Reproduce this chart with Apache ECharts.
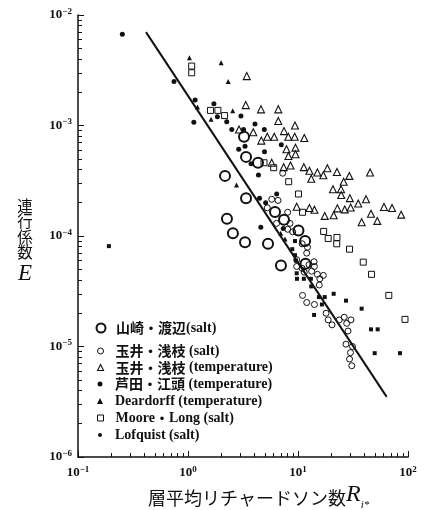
<!DOCTYPE html>
<html>
<head>
<meta charset="utf-8">
<script src="https://cdn.jsdelivr.net/npm/echarts@6/dist/echarts.min.js"></script>
<style>
  html, body { margin: 0; padding: 0; background: #fff; }
  #chart { width: 430px; height: 510px; }
</style>
</head>
<body>
<div id="chart"></div>
<script>
// 山崎・渡辺 (salt)
const yamazakiRi = [3.23, 3.37, 4.33, 2.17, 3.37, 6.18, 7.46, 2.26, 2.56, 3.30, 5.34, 10.1, 11.6, 7.0, 11.7]
const yamazakiE = [7.9e-4, 5.2e-4, 4.6e-4, 3.5e-4, 2.2e-4, 1.65e-4, 1.4e-4, 1.43e-4, 1.06e-4, 8.8e-5, 8.5e-5, 1.12e-4, 9.0e-5, 5.4e-5, 5.6e-5]

// 玉井・浅枝 (salt)
const tamaiSaltRi = [7.26, 5.77, 6.58, 5.26, 8.06, 6.38, 8.46, 8.06, 8.95, 10.9, 12.2, 12.0, 9.73, 9.73, 10.9, 12.6, 14.0, 14.1, 13.3, 11.4,
  15.0, 17.0, 15.8, 15.6, 11.0, 12.0, 14.1, 18.0, 18.8, 20.4, 23.7, 26.3, 30.3, 27.7, 28.5, 27.3, 31.3, 30.0, 29.4, 30.8]
const tamaiSaltE = [3.7e-4, 2.15e-4, 2.1e-4, 1.8e-4, 1.64e-4, 1.3e-4, 1.3e-4, 1.15e-4, 1.09e-4, 8.5e-5, 7.9e-5, 7.0e-5, 6.1e-5, 5.3e-5, 5.1e-5, 5.5e-5, 5.85e-5, 5.3e-5, 4.8e-5, 4.7e-5,
  4.5e-5, 4.4e-5, 4.1e-5, 3.6e-5, 2.9e-5, 2.5e-5, 2.4e-5, 2.0e-5, 1.74e-5, 1.57e-5, 1.74e-5, 1.84e-5, 1.74e-5, 1.62e-5, 1.38e-5, 1.05e-5, 1.0e-5, 8.8e-6, 7.7e-6, 6.7e-6]

// 玉井・浅枝 (temperature)
const tamaiTempRi = [3.42, 3.35, 4.61, 6.62, 6.62, 9.39, 2.91, 3.92, 7.46, 4.64, 5.26, 6.08, 8.16, 9.33, 11.4, 7.86, 9.49, 8.19, 9.49, 5.77,
  7.41, 8.55, 11.3, 18.5, 12.7, 15.0, 17.0, 22.6, 29.3, 45.2, 13.2, 26.0, 20.8, 24.6, 24.7, 29.6, 35.3, 41.5, 9.73, 12.7,
  14.1, 22.8, 26.6, 30.1, 17.5, 21.1, 46.1, 60.5, 71.6, 86.7, 37.9, 52.6]
const tamaiTempE = [2.8e-3, 1.53e-3, 1.4e-3, 1.4e-3, 1.1e-3, 1.0e-3, 9.2e-4, 8.7e-4, 8.9e-4, 7.3e-4, 7.9e-4, 7.9e-4, 7.9e-4, 7.9e-4, 7.7e-4, 6.1e-4, 6.3e-4, 5.3e-4, 5.5e-4, 4.6e-4,
  4.2e-4, 4.35e-4, 4.2e-4, 4.1e-4, 3.9e-4, 3.75e-4, 3.55e-4, 3.8e-4, 3.5e-4, 3.75e-4, 3.3e-4, 3.1e-4, 2.65e-4, 2.65e-4, 2.35e-4, 2.2e-4, 1.97e-4, 2.15e-4, 1.84e-4, 1.79e-4,
  1.73e-4, 1.78e-4, 1.74e-4, 1.81e-4, 1.52e-4, 1.54e-4, 1.59e-4, 1.83e-4, 1.79e-4, 1.56e-4, 1.33e-4, 1.37e-4]

// 芦田・江頭 (temperature)
const ashidaRi = [0.253, 0.746, 1.16, 1.72, 1.85, 1.13, 3.03, 2.25, 4.06, 2.5, 3.2, 4.94, 3.30, 2.89, 4.96, 7.05, 3.74, 4.37, 6.4, 5.08, 4.47, 4.59, 7.35]
const ashidaE = [6.7e-3, 2.5e-3, 1.7e-3, 1.57e-3, 1.2e-3, 1.07e-3, 1.22e-3, 1.08e-3, 1.03e-3, 9.2e-4, 9.2e-4, 9.2e-4, 6.5e-4, 6.1e-4, 5.8e-4, 6.7e-4, 4.5e-4, 3.56e-4, 2.4e-4, 2.0e-4, 2.2e-4, 1.2e-4, 1.17e-4]

// Deardorff (temperature)
const deardorffRi = [1.03, 1.22, 1.62, 2.0, 2.32, 2.55, 2.76, 6.96, 7.62]
const deardorffE = [4.1e-3, 1.47e-3, 1.14e-3, 3.7e-3, 2.5e-3, 1.36e-3, 2.9e-4, 1.06e-4, 9.4e-5]

// Moore・Long (salt)
const mooreRi = [1.08, 1.08, 1.6, 1.87, 2.15, 4.91, 6.01, 8.23, 10.1, 11.0, 17.1, 18.8, 22.6, 22.5, 29.4, 39.2, 46.6, 66.9, 93.9]
const mooreE = [3.45e-3, 3.0e-3, 1.37e-3, 1.37e-3, 1.23e-3, 4.6e-4, 4.15e-4, 3.1e-4, 2.4e-4, 1.64e-4, 1.1e-4, 9.5e-5, 9.7e-5, 8.5e-5, 7.6e-5, 5.8e-5, 4.5e-5, 2.9e-5, 1.76e-5]

// Lofquist (salt)
const lofquistRi = [0.191, 9.39, 8.87, 9.39, 9.59, 9.73, 9.79, 11.3, 13.1, 13.2, 15.5, 17.5, 16.5, 14.0, 21.1, 27.3, 37.9, 46.1, 53.0, 49.8, 84.6]
const lofquistE = [8.1e-5, 9.0e-5, 7.6e-5, 6.7e-5, 6.0e-5, 4.6e-5, 4.1e-5, 4.1e-5, 4.1e-5, 3.5e-5, 2.8e-5, 2.8e-5, 2.4e-5, 1.93e-5, 3.0e-5, 2.6e-5, 2.2e-5, 1.43e-5, 1.43e-5, 8.7e-6, 8.7e-6]

// 回帰直線の両端
const fitRi = [0.415, 64]
const fitE = [7.0e-3, 3.5e-6]

// 目盛り
const xMajor = [0.1, 1, 10, 100]
const yMajor = [1e-6, 1e-5, 1e-4, 1e-3, 1e-2]
const minorSteps = [2, 3, 4, 5, 6, 7, 8, 9]

const legendRows = [328, 351, 367.5, 384, 401, 418, 435]

const SERIF = "'Liberation Serif', 'DejaVu Serif', serif"
const JP = "'Noto Sans CJK JP', sans-serif"
const INK = '#111'
const GRID = { left: 78, right: 22, top: 15, bottom: 53 }

const minorOf = (majors) => majors.slice(0, -1).flatMap(d => minorSteps.map(k => k * d))
const zip = (xs, ys) => xs.map((x, i) => [x, ys[i]])

const expLabel = (value) => {
  const e = Math.round(Math.log10(value))
  return '{b|10}{s|' + (e < 0 ? '−' + (-e) : e) + '}'
}
const tickRich = {
  b: { fontSize: 13, fontWeight: 'bold', fontFamily: SERIF, color: INK, lineHeight: 16 },
  s: { fontSize: 9, fontWeight: 'bold', fontFamily: SERIF, color: INK, lineHeight: 9, verticalAlign: 'top' }
}

const groups = [
  { name: '山崎・渡辺(salt)', ri: yamazakiRi, e: yamazakiE, symbol: 'circle', size: 10, fill: 'rgba(0,0,0,0)', bw: 2, lsize: 9 },
  { name: '玉井・浅枝 (salt)', ri: tamaiSaltRi, e: tamaiSaltE, symbol: 'circle', size: 6, fill: 'rgba(0,0,0,0)', bw: 1, lsize: 6 },
  { name: '玉井・浅枝 (temperature)', ri: tamaiTempRi, e: tamaiTempE, symbol: 'triangle', size: 7, fill: 'rgba(0,0,0,0)', bw: 1.1, lsize: 6 },
  { name: '芦田・江頭 (temperature)', ri: ashidaRi, e: ashidaE, symbol: 'circle', size: 5, fill: INK, bw: 0, lsize: 5 },
  { name: 'Deardorff (temperature)', ri: deardorffRi, e: deardorffE, symbol: 'triangle', size: 5, fill: INK, bw: 0, lsize: 6 },
  { name: 'Moore・Long (salt)', ri: mooreRi, e: mooreE, symbol: 'rect', size: 6, fill: 'rgba(0,0,0,0)', bw: 1, lsize: 6 },
  { name: 'Lofquist (salt)', ri: lofquistRi, e: lofquistE, symbol: 'rect', size: 4, fill: INK, bw: 0, lsize: 4, licon: 'circle' }
]

const series = groups.map(g => ({
  name: g.name,
  type: 'scatter',
  data: zip(g.ri, g.e),
  symbol: g.symbol,
  symbolSize: g.size,
  itemStyle: { color: g.fill, borderColor: INK, borderWidth: g.bw, opacity: 1 },
  z: 3
}))
series.push({
  name: 'fit',
  type: 'line',
  data: zip(fitRi, fitE),
  symbol: 'none',
  lineStyle: { color: INK, width: 2 },
  z: 2
})

const legendText = (name) => name.replace(/[^\x00-\x7F]+/g, m => '{j|' + m + '}')

// 凡例は一行ずつ：記号の中心 x=100、文字の左端 x=115
const legends = groups.map((g, i) => ({
  data: [{
    name: g.name,
    icon: g.licon || g.symbol,
    itemStyle: { color: g.fill, borderColor: INK, borderWidth: g.bw }
  }],
  left: 100 - g.lsize / 2,
  top: legendRows[i] - 8,
  padding: 0,
  itemWidth: g.lsize,
  itemHeight: g.lsize,
  itemGap: 0,
  selectedMode: false,
  formatter: legendText,
  textStyle: {
    fontSize: 14, fontWeight: 'bold', fontFamily: SERIF, color: INK, lineHeight: 16,
    padding: [0, 0, 0, 10 - g.lsize / 2],
    rich: { j: { fontSize: 14, fontFamily: JP, color: INK, lineHeight: 16 } }
  }
}))

// 対数目盛りの位置（目盛り専用の線形軸で描く）
const tickAxisX = (vals, len, grid) => ({
  type: 'value', gridIndex: grid, min: -1, max: 2, position: 'bottom',
  axisLine: { show: false, onZero: false },
  axisTick: { show: true, inside: true, length: len, customValues: vals.map(Math.log10), lineStyle: { color: INK, width: 1 } },
  axisLabel: { show: false },
  splitLine: { show: false }
})
const tickAxisY = (vals, len, grid) => ({
  type: 'value', gridIndex: grid, min: -6, max: -2, position: 'left',
  axisLine: { show: false, onZero: false },
  axisTick: { show: true, inside: true, length: len, customValues: vals.map(Math.log10), lineStyle: { color: INK, width: 1 } },
  axisLabel: { show: false },
  splitLine: { show: false }
})

const chart = echarts.init(document.getElementById('chart'), null, { renderer: 'canvas' })

chart.setOption({
  animation: false,
  backgroundColor: '#fff',
  grid: [GRID, { ...GRID }, { ...GRID }],
  legend: legends,
  xAxis: [
    {
      type: 'log', logBase: 10, min: 0.1, max: 100, gridIndex: 0, position: 'bottom',
      axisLine: { show: true, onZero: false, lineStyle: { color: INK, width: 1.5 } },
      axisTick: { show: false },
      axisLabel: { customValues: xMajor, margin: 8, formatter: expLabel, rich: tickRich },
      splitLine: { show: false }
    },
    tickAxisX(minorOf(xMajor), 4, 1),
    tickAxisX(xMajor, 6, 2)
  ],
  yAxis: [
    {
      type: 'log', logBase: 10, min: 1e-6, max: 1e-2, gridIndex: 0, position: 'left',
      axisLine: { show: true, onZero: false, lineStyle: { color: INK, width: 1.5 } },
      axisTick: { show: false },
      axisLabel: { customValues: yMajor, margin: 6, formatter: expLabel, rich: tickRich },
      splitLine: { show: false }
    },
    tickAxisY(minorOf(yMajor), 4, 1),
    tickAxisY(yMajor, 6, 2)
  ],
  graphic: [
    {
      type: 'text', x: 25, y: 198,
      style: { text: '連\n行\n係\n数', fontSize: 15.5, lineHeight: 15.5, fontFamily: JP, fill: INK, align: 'center' }
    },
    {
      type: 'text', x: 25, y: 262,
      style: { text: 'E', fontSize: 23, fontStyle: 'italic', fontFamily: SERIF, fill: INK, align: 'center' }
    },
    {
      type: 'text', x: 148, y: 483,
      style: {
        text: '{c|層平均リチャードソン数}{r|R}{sub|i*}',
        rich: {
          c: { fontSize: 18, fontFamily: JP, fill: INK, lineHeight: 24, verticalAlign: 'bottom' },
          r: { fontSize: 24, fontStyle: 'italic', fontFamily: SERIF, fill: INK, lineHeight: 24, verticalAlign: 'bottom' },
          sub: { fontSize: 11, fontStyle: 'italic', fontFamily: SERIF, fill: INK, lineHeight: 10, verticalAlign: 'bottom', padding: [0, 0, -4, 0] }
        }
      }
    }
  ],
  series
})

window.addEventListener('resize', () => chart.resize())
</script>
</body>
</html>
